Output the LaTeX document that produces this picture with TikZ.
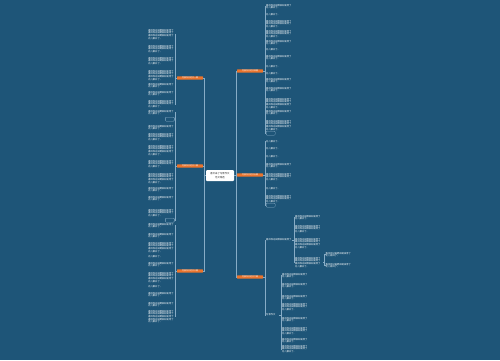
\documentclass[tikz,border=0pt]{standalone}
\usepackage{fontspec}
\newfontfamily\cjk{Noto Sans CJK SC}

\definecolor{bgblue}{RGB}{30,85,120}
\definecolor{linkblue}{RGB}{135,172,198}
\definecolor{branchorange}{RGB}{235,116,44}
\definecolor{titledark}{RGB}{45,45,45}

% one full row of leaf text, and a shorter closing row
\newcommand\tline{春风吹过田野柳树发芽了}
\newcommand\tshort{花儿都开了。}
\newcommand\leafrows[1]{\ifnum#1>1 \foreach\k in {2,...,#1}{\tline\par}\fi\tshort}

\begin{document}
\begin{tikzpicture}[
    x=1pt, y=-1pt,
    line width=0.4pt,
    title/.style={fill=white, rounded corners=1pt, text width=25pt, minimum width=28pt, minimum height=11pt, inner sep=1pt, align=center, text=titledark, font={\cjk\fontsize{2.4}{3.2}\selectfont}},
    branch/.style={fill=branchorange, rounded corners=0.5pt, minimum width=26pt, minimum height=3.4pt, inner sep=0pt, text=white, font={\cjk\fontsize{2}{2.2}\selectfont}},
    leafl/.style={anchor=north east, text width=26pt, inner sep=0pt, align=left, text=white, font={\cjk\fontsize{2.3}{2.65}\selectfont}},
    leafr/.style={anchor=north west, text width=26pt, inner sep=0pt, align=left, text=white, font={\cjk\fontsize{2.3}{2.65}\selectfont}},
    morebox/.style={draw=linkblue, line width=0.3pt, rounded corners=0.8pt, minimum width=9pt, minimum height=4pt, inner sep=0pt},
    link/.style={draw=linkblue}
]
\fill[bgblue] (0,0) rectangle (500,360);

% centre and main branches
\node[title] (c) at (220,175.5) {春天来了写景作文\\范文精选};
\node[branch] (b1) at (190,78) {写景作文范文一篇};
\node[branch] (b2) at (190,166) {写景作文范文二篇};
\node[branch] (b3) at (190,271) {写景作文范文三篇};
\node[branch] (b4) at (250,71) {写景作文范文四篇};
\node[branch] (b5) at (250,175) {写景作文范文五篇};
\node[branch] (b6) at (250,277) {写景作文范文六篇};

\coordinate (jl) at ([xshift=-1.5pt]c.west);
\coordinate (jr) at ([xshift=1.5pt]c.east);
\draw[link] (c.west) -- (jl) |- (b1.east);
\draw[link] (jl) |- (b2.east);
\draw[link] (jl) |- (b3.east);
\draw[link] (c.east) -- (jr) |- (b4.west);
\draw[link] (jr) |- (b5.west);
\draw[link] (jr) |- (b6.west);

% left leaves
\foreach \y/\n [count=\i] in {29/4,45/3,57/3,70/4,83/2,91/2,100/3}{
  \node[leafl] (la\i) at (174.5,\y) {\leafrows{\n}};
  \draw[link] (b1.west) -- ++(-1.3,0) |- (la\i.east);
}
\foreach \y/\n [count=\i] in {110/2,125/2,133/3,145/4,160/3,173/4,187/2,196/2,209/3}{
  \node[leafl] (lb\i) at (174.5,\y) {\leafrows{\n}};
  \draw[link] (b2.west) -- ++(-1.3,0) |- (lb\i.east);
}
\node[morebox, anchor=north east] (lbm1) at (174.5,117) {};
\node[morebox, anchor=north east] (lbm2) at (174.5,218) {};
\draw[link] (b2.west) -- ++(-1.3,0) |- (lbm1.east);
\draw[link] (b2.west) -- ++(-1.3,0) |- (lbm2.east);
\foreach \y/\n [count=\i] in {223/2,233/2,242/4,255/1,262/2,272/4,285/1,292/2,302/2,310/5}{
  \node[leafl] (lc\i) at (174.5,\y) {\leafrows{\n}};
  \draw[link] (b3.west) -- ++(-1.3,0) |- (lc\i.east);
}

% right leaves
\foreach \y/\n [count=\i] in {4/2,13/1,20/3,30/3,40/2,48/1,55/2,65/1,72/1,78/2,87/2,98/4,110/2,120/4}{
  \node[leafr] (ra\i) at (266,\y) {\leafrows{\n}};
  \draw[link] (b4.east) -- ++(1.5,0) |- (ra\i.west);
}
\node[morebox, anchor=north west] (ram) at (266,131) {};
\draw[link] (b4.east) -- ++(1.5,0) |- (ram.west);
\foreach \y/\n [count=\i] in {140/1,147/1,155/1,163/2,173/3,187/1,195/3}{
  \node[leafr] (rb\i) at (266,\y) {\leafrows{\n}};
  \draw[link] (b5.east) -- ++(1.5,0) |- (rb\i.west);
}
\node[morebox, anchor=north west] (rbm) at (266,203) {};
\draw[link] (b5.east) -- ++(1.5,0) |- (rbm.west);

% right bottom: two sub branches
\node[leafr, anchor=west] (sa) at (266,240) {\tline};
\node[leafr, anchor=west, text width=13pt] (sb) at (266,315) {写景作文};
\draw[link] (b6.east) -- ++(1.5,0) |- (sa.west);
\draw[link] (b6.east) -- ++(1.5,0) |- (sb.west);
\foreach \y/\n [count=\i] in {215/2,225/3,238/4,257/4}{
  \node[leafr, text width=28pt] (sc\i) at (295,\y) {\leafrows{\n}};
  \draw[link] (sa.east) -- ++(1.5,0) |- (sc\i.west);
}
\foreach \y/\n [count=\i] in {252/2,263/2}{
  \node[leafr, text width=27pt] (sd\i) at (325.5,\y) {\leafrows{\n}};
  \draw[link] (sc4.east) -- ++(1.2,0) |- (sd\i.west);
}
\foreach \y/\n [count=\i] in {273/2,283/2,295/2,303/3,317/2,327/3,338/2,345/3}{
  \node[leafr, text width=28pt] (se\i) at (282,\y) {\leafrows{\n}};
  \draw[link] (sb.east) -- ++(1.5,0) |- (se\i.west);
}
\end{tikzpicture}
\end{document}
